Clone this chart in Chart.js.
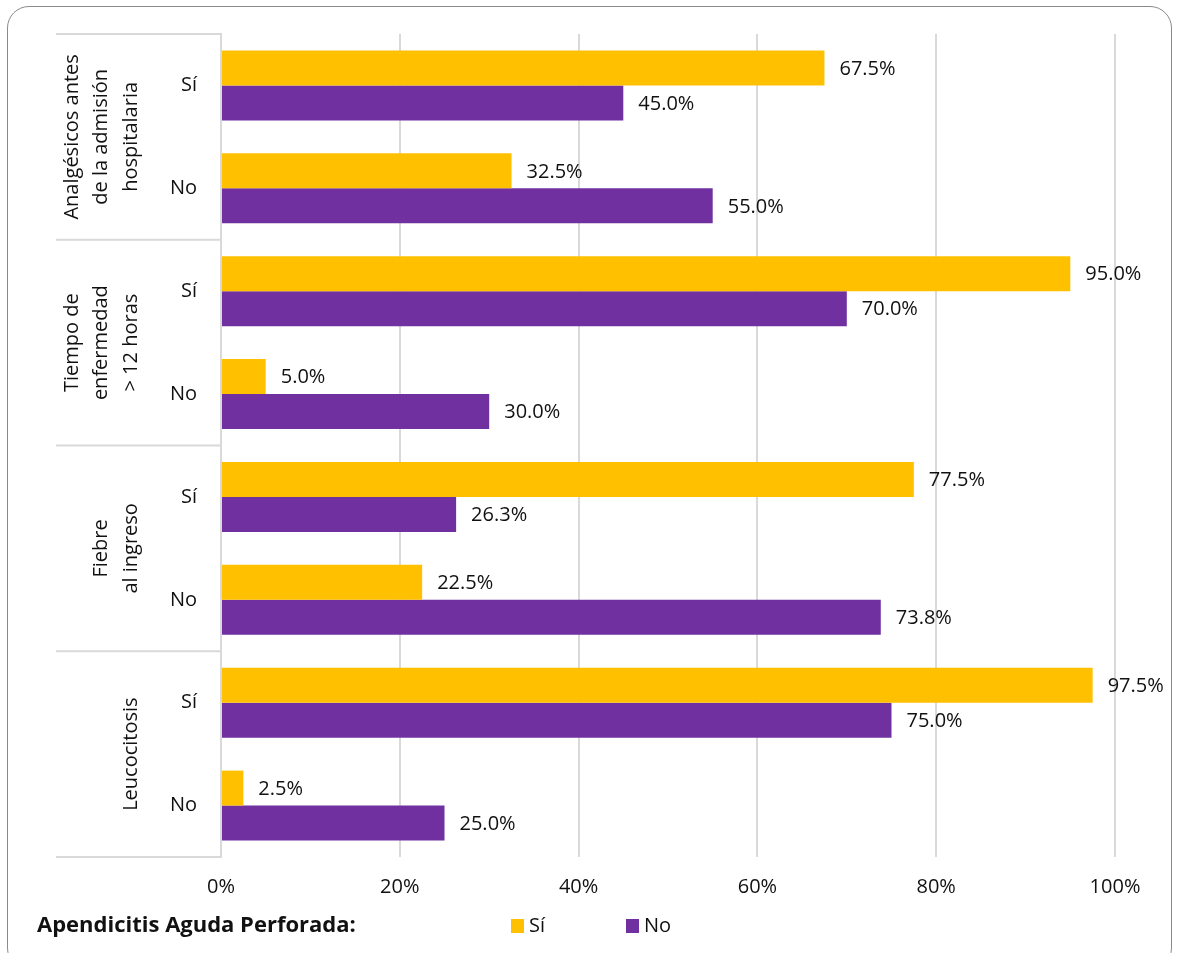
<!DOCTYPE html>
<html>
<head>
<meta charset="utf-8">
<script src="https://cdn.jsdelivr.net/npm/chart.js@4.4.1/dist/chart.umd.min.js"></script>
<style>
  body { margin: 0; background: #fff; }
  #wrap { position: relative; width: 1181px; height: 953px; overflow: hidden; }
  #frame { position: absolute; left: 7px; top: 6px; width: 1163px; height: 962px;
           border: 1.5px solid #8a8a8a; border-radius: 22px; pointer-events: none; }
</style>
</head>
<body>
<div id="wrap">
  <canvas id="chart" width="1181" height="953"></canvas>
  <div id="frame"></div>
</div>
<script>
// datos
const groupLabels = [
  ['Analgésicos antes', 'de la admisión', 'hospitalaria'],
  ['Tiempo de', 'enfermedad', '> 12 horas'],
  ['Fiebre', 'al ingreso'],
  ['Leucocitosis']
];
const rowLabels = ['Sí', 'No', 'Sí', 'No', 'Sí', 'No', 'Sí', 'No'];
const siValues = [67.5, 32.5, 95.0, 5.0, 77.5, 22.5, 97.5, 2.5];
const noValues = [45.0, 55.0, 70.0, 30.0, 26.3, 73.8, 75.0, 25.0];
const seriesNames = ['Sí', 'No'];
const legendTitle = 'Apendicitis Aguda Perforada:';
const xMax = 100;
const xStep = 20;

const FONT = '"Open Sans", sans-serif';
const TEXT = '#111';
const GRID = '#d9d9d9';
const colors = ['#FFC000', '#7030A0'];

// etiquetas de valor al final de cada barra
const valueLabels = {
  id: 'valueLabels',
  afterDatasetsDraw(chart) {
    const ctx = chart.ctx;
    ctx.save();
    ctx.font = '20px ' + FONT;
    ctx.fillStyle = TEXT;
    ctx.textAlign = 'left';
    ctx.textBaseline = 'middle';
    chart.data.datasets.forEach((ds, i) => {
      chart.getDatasetMeta(i).data.forEach((bar, j) => {
        ctx.fillText(ds.data[j].toFixed(1) + '%', bar.x + 15, bar.y + 1);
      });
    });
    ctx.restore();
  }
};

// grupos del eje vertical y leyenda
const groupAxis = {
  id: 'groupAxis',
  afterDraw(chart) {
    const ctx = chart.ctx;
    const y = chart.scales.y;
    const left = chart.chartArea.left;
    const bounds = [y.top];
    for (let g = 1; g < groupLabels.length; g++) {
      bounds.push((y.getPixelForValue(g * 2 - 1) + y.getPixelForValue(g * 2)) / 2);
    }
    bounds.push(y.bottom);

    ctx.save();
    ctx.strokeStyle = GRID;
    ctx.lineWidth = 2;
    bounds.forEach(b => {
      ctx.beginPath();
      ctx.moveTo(56, b);
      ctx.lineTo(left, b);
      ctx.stroke();
    });

    ctx.font = '20px ' + FONT;
    ctx.fillStyle = TEXT;
    ctx.textAlign = 'center';
    ctx.textBaseline = 'middle';
    const lineH = 29.5;
    groupLabels.forEach((lines, g) => {
      const cy = (bounds[g] + bounds[g + 1]) / 2;
      const n = lines.length;
      lines.forEach((t, k) => {
        // lineas apiladas desde la derecha (texto girado)
        const cx = 131 - (n - 1 - k) * lineH;
        ctx.save();
        ctx.translate(cx, cy);
        ctx.rotate(-Math.PI / 2);
        ctx.fillText(t, 0, 0);
        ctx.restore();
      });
    });

    // leyenda
    const ly = 926;
    ctx.textAlign = 'left';
    ctx.font = 'bold 22px ' + FONT;
    ctx.fillText(legendTitle, 37, ly);
    ctx.font = '20px ' + FONT;
    const itemX = [511, 626];
    seriesNames.forEach((name, i) => {
      ctx.fillStyle = colors[i];
      ctx.fillRect(itemX[i], ly - 7, 13, 14);
      ctx.fillStyle = TEXT;
      ctx.fillText(name, itemX[i] + 18, ly);
    });
    ctx.restore();
  }
};

new Chart(document.getElementById('chart'), {
  type: 'bar',
  data: {
    labels: rowLabels,
    datasets: [
      { label: seriesNames[0], data: siValues, backgroundColor: colors[0] },
      { label: seriesNames[1], data: noValues, backgroundColor: colors[1] }
    ]
  },
  options: {
    indexAxis: 'y',
    responsive: false,
    animation: false,
    barPercentage: 1,
    categoryPercentage: 0.68,
    layout: { padding: { top: 34, right: 66, bottom: 46, left: 0 } },
    plugins: {
      legend: { display: false },
      tooltip: { enabled: false }
    },
    scales: {
      x: {
        min: 0,
        max: xMax,
        afterFit: s => { s.height = 50; },
        ticks: {
          stepSize: xStep,
          padding: 18,
          color: TEXT,
          font: { family: FONT, size: 20 },
          callback: v => v + '%'
        },
        grid: { color: GRID, lineWidth: 2, drawTicks: false },
        border: { display: false }
      },
      y: {
        afterFit: s => { s.width = 221; },
        ticks: {
          padding: 16,
          color: TEXT,
          font: { family: FONT, size: 20 }
        },
        grid: { display: false },
        border: { display: true, color: GRID, width: 2 }
      }
    }
  },
  plugins: [valueLabels, groupAxis]
});
</script>
</body>
</html>
